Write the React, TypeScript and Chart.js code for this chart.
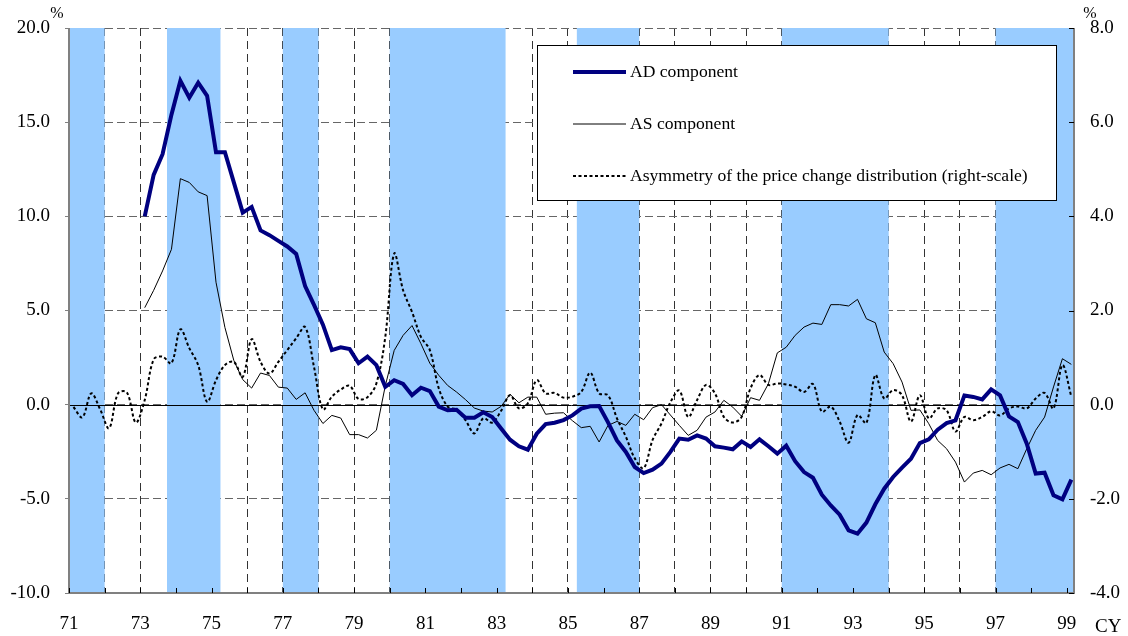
import React, { useEffect, useRef } from "react";
import { Chart, registerables } from "chart.js";

Chart.register(...registerables);

const FONT = "'Liberation Serif', 'Times New Roman', serif";

// ---- categories: quarters 71Q1 .. 99Q1 ----
const firstYear = 71;
const lastYear = 99;
const lastYearQuarters = 1;
const quarterLabels: string[] = [];
for (let yr = firstYear; yr <= lastYear; yr++) {
  const nq = yr === lastYear ? lastYearQuarters : 4;
  for (let q = 1; q <= nq; q++) quarterLabels.push(`${yr}Q${q}`);
}

// ---- series (left scale, %) ----
const adStart = "73Q1";
const adComponent = [
  10.0, 12.2, 13.3, 15.4, // 73
  17.2, 16.3, 17.1, 16.4, // 74
  13.4, 13.4, 11.8, 10.2, // 75
  10.5, 9.25, 9.0, 8.7, // 76
  8.4, 8.0, 6.3, 5.3, // 77
  4.25, 2.9, 3.05, 2.95, // 78
  2.2, 2.55, 2.1, 0.95, // 79
  1.3, 1.1, 0.5, 0.9, // 80
  0.72, -0.1, -0.3, -0.27, // 81
  -0.69, -0.69, -0.4, -0.66, // 82
  -1.27, -1.86, -2.21, -2.39, // 83
  -1.54, -1.03, -0.96, -0.82, // 84
  -0.57, -0.21, -0.09, -0.07, // 85
  -0.94, -1.9, -2.51, -3.31, // 86
  -3.63, -3.45, -3.13, -2.51, // 87
  -1.8, -1.86, -1.63, -1.8, // 88
  -2.21, -2.28, -2.37, -1.95, // 89
  -2.25, -1.84, -2.21, -2.6, // 90
  -2.18, -3.0, -3.58, -3.88, // 91
  -4.78, -5.35, -5.84, -6.67, // 92
  -6.85, -6.26, -5.29, -4.46, // 93
  -3.84, -3.34, -2.87, -2.04, // 94
  -1.84, -1.33, -0.98, -0.83, // 95
  0.49, 0.41, 0.28, 0.81, // 96
  0.49, -0.62, -0.92, -2.07, // 97
  -3.66, -3.61, -4.81, -5.03, // 98
  -3.98, // 99
];

const asStart = "73Q1";
const asComponent = [
  5.15, 6.07, 7.1, 8.25, // 73
  12.0, 11.8, 11.3, 11.1, // 74
  6.5, 4.1, 2.35, 1.33, // 75
  0.88, 1.68, 1.55, 0.93, // 76
  0.88, 0.28, 0.63, -0.3, // 77
  -1.0, -0.57, -0.71, -1.59, // 78
  -1.59, -1.77, -1.36, 1.0, // 79
  2.88, 3.68, 4.2, 3.24, // 80
  2.2, 1.56, 1.02, 0.67, // 81
  0.27, -0.18, -0.34, -0.39, // 82
  -0.09, 0.55, 0.1, 0.4, // 83
  0.4, -0.51, -0.45, -0.43, // 84
  -0.85, -1.22, -1.15, -1.98, // 85
  -1.1, -0.89, -1.1, -0.51, // 86
  -0.8, -0.16, 0.0, -0.55, // 87
  -1.1, -1.63, -1.36, -0.66, // 88
  -0.39, 0.23, -0.13, -0.62, // 89
  0.37, 0.23, 1.11, 2.75, // 90
  3.05, 3.68, 4.12, 4.33, // 91
  4.26, 5.31, 5.31, 5.24, // 92
  5.59, 4.56, 4.35, 2.79, // 93
  2.18, 1.2, -0.3, -0.28, // 94
  -1.01, -1.9, -2.34, -3.05, // 95
  -4.11, -3.63, -3.49, -3.72, // 96
  -3.36, -3.17, -3.4, -2.34, // 97
  -1.36, -0.66, 0.94, 2.44, // 98
  2.14, // 99
];

// ---- series (right scale, %) ----
const asymStart = "71Q1";
const asymmetry = [
  -0.05, -0.27, 0.24, -0.1, // 71
  -0.5, 0.24, 0.26, -0.38, // 72
  0.1, 0.96, 1.02, 0.88, // 73
  1.6, 1.2, 0.84, 0.06, // 74
  0.52, 0.84, 0.91, 0.59, // 75
  1.39, 0.91, 0.66, 0.91, // 76
  1.16, 1.41, 1.65, 0.8, // 77
  -0.1, 0.17, 0.32, 0.4, // 78
  0.12, 0.16, 0.45, 1.44, // 79
  3.21, 2.43, 1.97, 1.44, // 80
  1.16, 0.35, -0.04, -0.11, // 81
  -0.33, -0.61, -0.29, -0.38, // 82
  -0.13, 0.2, -0.08, 0.03, // 83
  0.52, 0.24, 0.25, 0.15, // 84
  0.17, 0.27, 0.68, 0.24, // 85
  0.2, -0.29, -0.68, -1.14, // 86
  -1.35, -0.75, -0.4, 0.05, // 87
  0.3, -0.26, 0.1, 0.42, // 88
  0.24, -0.26, -0.38, -0.26, // 89
  0.35, 0.63, 0.42, 0.45, // 90
  0.43, 0.38, 0.27, 0.44, // 91
  -0.15, -0.04, -0.36, -0.81, // 92
  -0.22, -0.39, 0.63, 0.13, // 93
  0.31, 0.2, -0.36, 0.2, // 94
  -0.29, -0.08, -0.12, -0.57, // 95
  -0.26, -0.33, -0.26, -0.14, // 96
  -0.23, -0.08, -0.04, -0.08, // 97
  0.13, 0.25, -0.08, 0.84, // 98
  0.17, // 99
];

// ---- shaded periods (year fractions) ----
const bandStart = [71.0, 73.75, 77.0, 80.0, 85.25, 91.0, 97.0];
const bandEnd = [72.0, 75.25, 78.0, 83.25, 87.0, 94.0, 99.25];

// ---- ticks ----
const xGridYears = [
  71, 72, 73, 74, 75, 76, 77, 78, 79, 80, 81, 82, 83, 84, 85, 86, 87, 88, 89,
  90, 91, 92, 93, 94, 95, 96, 97, 98, 99,
];
const xLabelYears = [71, 73, 75, 77, 79, 81, 83, 85, 87, 89, 91, 93, 95, 97, 99];
const leftTicks = [-10, -5, 0, 5, 10, 15, 20];
const rightTicks = [-4, -2, 0, 2, 4, 6, 8];

const xMin = 71;
const xMax = 99.2;

function quarterPos(label: string): number {
  const [yr, q] = label.split("Q").map(Number);
  return yr + (q - 0.5) / 4;
}

function toPoints(start: string, values: number[]) {
  const s = quarterLabels.indexOf(start);
  return values.map((v, k) => ({ x: quarterPos(quarterLabels[s + k]), y: v }));
}

const decorPlugin = {
  id: "decor",
  beforeDatasetsDraw(chart: any) {
    const { ctx, chartArea: a, scales } = chart;
    const xs = scales.x;
    const ys = scales.y;
    const y1 = scales.y1;
    ctx.save();
    // shaded bands
    ctx.fillStyle = "#99CCFF";
    bandStart.forEach((s, k) => {
      const x0 = Math.max(a.left, xs.getPixelForValue(s));
      const x1 = Math.min(a.right, xs.getPixelForValue(bandEnd[k]));
      ctx.fillRect(x0, a.top, x1 - x0, a.bottom - a.top);
    });
    // zero line
    const yz = Math.round(ys.getPixelForValue(0)) + 0.5;
    ctx.strokeStyle = "#000";
    ctx.lineWidth = 1;
    ctx.beginPath();
    ctx.moveTo(a.left, yz);
    ctx.lineTo(a.right, yz);
    ctx.stroke();
    // axis lines
    ctx.strokeStyle = "#808080";
    ctx.lineWidth = 2;
    ctx.beginPath();
    ctx.moveTo(a.left, a.top);
    ctx.lineTo(a.left, a.bottom);
    ctx.lineTo(a.right, a.bottom);
    ctx.lineTo(a.right, a.top);
    ctx.stroke();
    // inward ticks
    ctx.strokeStyle = "#000";
    ctx.lineWidth = 1;
    ctx.beginPath();
    xGridYears.forEach((v) => {
      const px = Math.round(xs.getPixelForValue(v)) + 0.5;
      ctx.moveTo(px, a.bottom);
      ctx.lineTo(px, a.bottom - 5);
    });
    rightTicks.forEach((v) => {
      const py = Math.round(y1.getPixelForValue(v)) + 0.5;
      ctx.moveTo(a.right, py);
      ctx.lineTo(a.right - 5, py);
    });
    ctx.stroke();
    ctx.restore();
  },
  afterDraw(chart: any) {
    const { ctx, chartArea: a } = chart;
    ctx.save();
    // legend box
    const lx = 537.5;
    const ly = 45.5;
    const lw = 519;
    const lh = 155;
    ctx.fillStyle = "#fff";
    ctx.fillRect(lx, ly, lw, lh);
    ctx.strokeStyle = "#000";
    ctx.lineWidth = 1;
    ctx.strokeRect(lx, ly, lw, lh);
    const rowY = [72, 124, 176];
    chart.data.datasets.forEach((ds: any, k: number) => {
      const yy = rowY[k];
      ctx.strokeStyle = ds.borderColor;
      ctx.lineWidth = ds.borderWidth;
      ctx.setLineDash(ds.borderDash || []);
      ctx.beginPath();
      ctx.moveTo(573, yy);
      ctx.lineTo(626, yy);
      ctx.stroke();
      ctx.setLineDash([]);
      ctx.fillStyle = "#000";
      ctx.font = `17.6px ${FONT}`;
      ctx.textAlign = "left";
      ctx.textBaseline = "middle";
      ctx.fillText(ds.label, 630, yy);
    });
    // unit labels
    ctx.fillStyle = "#000";
    ctx.font = `16px ${FONT}`;
    ctx.textAlign = "center";
    ctx.textBaseline = "middle";
    ctx.fillText("%", a.left - 12, 14);
    ctx.fillText("%", a.right + 16, 14);
    ctx.font = `19px ${FONT}`;
    ctx.textAlign = "left";
    ctx.fillText("CY", a.right + 21, 627);
    ctx.restore();
  },
};

export default function App() {
  const canvasRef = useRef<HTMLCanvasElement | null>(null);

  useEffect(() => {
    document.body.style.margin = "0";
    const canvas = canvasRef.current;
    if (!canvas) return;
    const tickFont = { family: FONT, size: 19 };
    const chart = new Chart(canvas, {
      type: "line",
      data: {
        datasets: [
          {
            label: "AD component",
            data: toPoints(adStart, adComponent),
            borderColor: "#000080",
            backgroundColor: "#000080",
            borderWidth: 4,
            pointRadius: 0,
            tension: 0,
            yAxisID: "y",
          },
          {
            label: "AS component",
            data: toPoints(asStart, asComponent),
            borderColor: "#000000",
            backgroundColor: "#000000",
            borderWidth: 1,
            pointRadius: 0,
            tension: 0,
            yAxisID: "y",
          },
          {
            label: "Asymmetry of the price change distribution (right-scale)",
            data: toPoints(asymStart, asymmetry),
            borderColor: "#000000",
            backgroundColor: "#000000",
            borderWidth: 2,
            borderDash: [3, 2.5],
            pointRadius: 0,
            tension: 0.35,
            yAxisID: "y1",
          },
        ],
      },
      options: {
        animation: false,
        responsive: false,
        devicePixelRatio: 1,
        layout: { padding: { top: 28, left: 0, right: 0, bottom: 0 } },
        plugins: {
          legend: { display: false },
          tooltip: { enabled: false },
        },
        scales: {
          x: {
            type: "linear",
            position: "bottom",
            min: xMin,
            max: xMax,
            afterBuildTicks: (scale: any) => {
              scale.ticks = xGridYears.map((v) => ({ value: v }));
            },
            afterFit: (scale: any) => {
              scale.height = 43;
            },
            grid: {
              color: "#333333",
              lineWidth: 1,
              drawTicks: false,
            },
            border: { display: false, dash: [8, 5] },
            ticks: {
              autoSkip: false,
              maxRotation: 0,
              padding: 20,
              color: "#000",
              font: tickFont,
              callback: (v: any) => (xLabelYears.includes(Number(v)) ? String(v) : ""),
            },
          },
          y: {
            type: "linear",
            position: "left",
            min: -10,
            max: 20,
            afterBuildTicks: (scale: any) => {
              scale.ticks = leftTicks.map((v) => ({ value: v }));
            },
            afterFit: (scale: any) => {
              scale.width = 69;
            },
            grid: {
              color: "#666666",
              lineWidth: 1,
              drawTicks: true,
              tickLength: 4,
              tickColor: "#808080",
              tickBorderDash: [],
            },
            border: { display: false, dash: [8, 4] },
            ticks: {
              padding: 15,
              color: "#000",
              font: tickFont,
              callback: (v: any) => Number(v).toFixed(1),
            },
          },
          y1: {
            type: "linear",
            position: "right",
            min: -4,
            max: 8,
            afterBuildTicks: (scale: any) => {
              scale.ticks = rightTicks.map((v) => ({ value: v }));
            },
            afterFit: (scale: any) => {
              scale.width = 54;
            },
            grid: { drawOnChartArea: false, drawTicks: false },
            border: { display: false },
            ticks: {
              padding: 16,
              color: "#000",
              font: tickFont,
              callback: (v: any) => Number(v).toFixed(1),
            },
          },
        },
      },
      plugins: [decorPlugin],
    });
    return () => chart.destroy();
  }, []);

  return (
    <div style={{ width: 1128, height: 636 }}>
      <canvas ref={canvasRef} width={1128} height={636} style={{ display: "block" }} />
    </div>
  );
}
